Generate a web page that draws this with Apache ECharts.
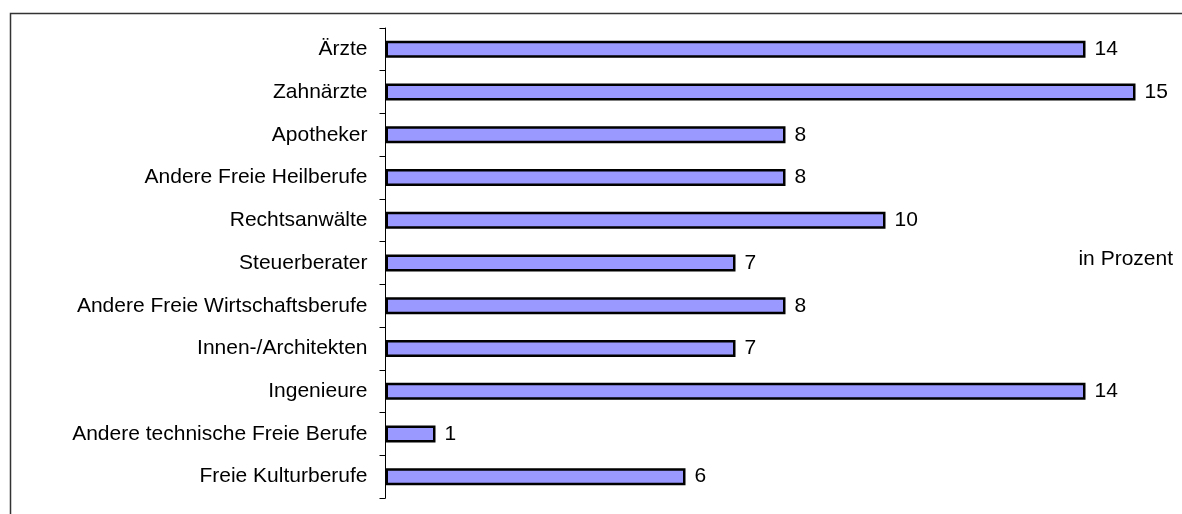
<!DOCTYPE html>
<html>
<head>
<meta charset="utf-8">
<script src="https://cdn.jsdelivr.net/npm/echarts@6/dist/echarts.min.js"></script>
<style>
  html, body { margin: 0; padding: 0; background: #ffffff; }
  #main { width: 1182px; height: 514px; }
</style>
</head>
<body>
<div id="main"></div>
<script>
// Kategorien und Werte (in Prozent)
var categories = [
  'Ärzte',
  'Zahnärzte',
  'Apotheker',
  'Andere Freie Heilberufe',
  'Rechtsanwälte',
  'Steuerberater',
  'Andere Freie Wirtschaftsberufe',
  'Innen-/Architekten',
  'Ingenieure',
  'Andere technische Freie Berufe',
  'Freie Kulturberufe'
];
var values = [14, 15, 8, 8, 10, 7, 8, 7, 14, 1, 6];
var unitLabel = 'in Prozent';

var font = 'Arial, "Liberation Sans", sans-serif';

var myChart = echarts.init(document.getElementById('main'));
myChart.setOption({
  animation: false,
  grid: {
    left: 385.5,
    top: 28,
    width: 780,
    height: 470
  },
  xAxis: {
    type: 'value',
    min: 0,
    max: 15.6,
    show: false
  },
  yAxis: {
    type: 'category',
    inverse: true,
    data: categories,
    axisLine: { show: true, lineStyle: { color: '#000', width: 1 } },
    axisTick: { show: true, length: 6, lineStyle: { color: '#000' } },
    axisLabel: {
      margin: 18,
      color: '#000',
      fontFamily: font,
      fontSize: 21
    }
  },
  graphic: [
    {
      type: 'rect',
      shape: { x: 10.5, y: 13.5, width: 1300, height: 600 },
      style: { fill: 'none', stroke: '#333', lineWidth: 1.5 },
      silent: true
    },
    {
      type: 'text',
      right: 9,
      top: 249,
      style: { text: unitLabel, fill: '#000', font: '21px ' + font }
    }
  ],
  series: [
    {
      type: 'bar',
      data: values,
      barWidth: 17,
      itemStyle: {
        color: '#9999FF',
        borderColor: '#000',
        borderWidth: 2.5
      },
      label: {
        show: true,
        position: 'right',
        distance: 9,
        color: '#000',
        fontFamily: font,
        fontSize: 21
      }
    }
  ]
});
</script>
</body>
</html>
